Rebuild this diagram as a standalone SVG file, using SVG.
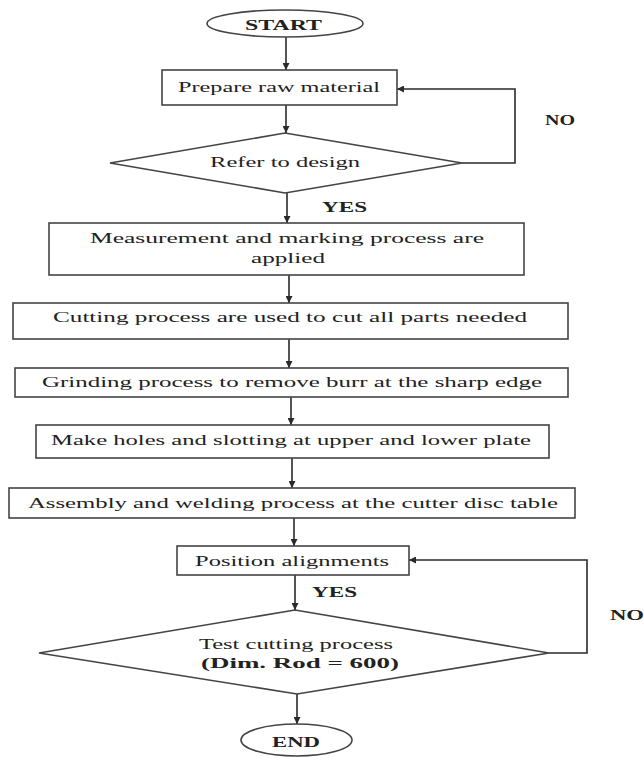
<svg xmlns="http://www.w3.org/2000/svg" width="644" height="757" viewBox="0 0 644 757">
<defs>
<marker id="ah" viewBox="0 0 10 10" refX="10" refY="5" markerWidth="7" markerHeight="7" markerUnits="userSpaceOnUse" orient="auto">
<path d="M0,0 L10,5 L0,10 z" fill="#2a2a2a"/>
</marker>
</defs>
<style>
.shape{fill:#ffffff;stroke:#444444;stroke-width:1.6}
.line{fill:none;stroke:#2a2a2a;stroke-width:1.6}
.arrow{fill:none;stroke:#2a2a2a;stroke-width:1.6;marker-end:url(#ah)}
text{font-family:"Liberation Serif","Times New Roman",serif;font-size:15px;fill:#222222}
.b{font-weight:bold}
</style>
<rect width="644" height="757" fill="#ffffff"/>
<g id="connectors">
<line class="arrow" x1="286" y1="37" x2="286" y2="70"/>
<line class="arrow" x1="286" y1="105" x2="286" y2="133"/>
<polyline class="arrow" points="462,163 515,163 515,89 397,89"/>
<line class="arrow" x1="287" y1="193" x2="287" y2="223"/>
<line class="arrow" x1="289" y1="275" x2="289" y2="303"/>
<line class="arrow" x1="289" y1="339" x2="289" y2="368"/>
<line class="arrow" x1="291" y1="397" x2="291" y2="425"/>
<line class="arrow" x1="292" y1="458" x2="292" y2="488"/>
<line class="arrow" x1="294" y1="518" x2="294" y2="546"/>
<line class="arrow" x1="295" y1="575" x2="295" y2="610"/>
<polyline class="arrow" points="549,653 587,653 587,560 409,560"/>
<line class="arrow" x1="297" y1="694" x2="297" y2="724"/>
<text class="b" x="545" y="125" textLength="30" lengthAdjust="spacingAndGlyphs">NO</text>
<text class="b" x="322" y="212" textLength="45" lengthAdjust="spacingAndGlyphs">YES</text>
<text class="b" x="312" y="597" textLength="45" lengthAdjust="spacingAndGlyphs">YES</text>
<text class="b" x="610" y="620" textLength="34" lengthAdjust="spacingAndGlyphs">NO</text>
</g>
<g id="start">
<ellipse class="shape" cx="285" cy="23.5" rx="78" ry="13.5"/>
<text class="b" x="245" y="30" textLength="77" lengthAdjust="spacingAndGlyphs">START</text>
</g>
<g id="prepare">
<rect class="shape" x="162" y="70" width="235" height="35"/>
<text x="178" y="92" textLength="202" lengthAdjust="spacingAndGlyphs">Prepare raw material</text>
</g>
<g id="refer">
<polygon class="shape" points="285,133 462,163 285,193 110,163"/>
<text x="210" y="167" textLength="150" lengthAdjust="spacingAndGlyphs">Refer to design</text>
</g>
<g id="measurement">
<rect class="shape" x="49" y="223" width="475" height="52"/>
<text x="90" y="243" textLength="394" lengthAdjust="spacingAndGlyphs">Measurement and marking process are</text>
<text x="251" y="263" textLength="74" lengthAdjust="spacingAndGlyphs">applied</text>
</g>
<g id="cutting">
<rect class="shape" x="13" y="303" width="555" height="36"/>
<text x="53" y="322" textLength="474" lengthAdjust="spacingAndGlyphs">Cutting process are used to cut all parts needed</text>
</g>
<g id="grinding">
<rect class="shape" x="15" y="368" width="553" height="29"/>
<text x="42" y="387" textLength="500" lengthAdjust="spacingAndGlyphs">Grinding process to remove burr at the sharp edge</text>
</g>
<g id="holes">
<rect class="shape" x="36" y="425" width="513" height="33"/>
<text x="51" y="445" textLength="480" lengthAdjust="spacingAndGlyphs">Make holes and slotting at upper and lower plate</text>
</g>
<g id="assembly">
<rect class="shape" x="9" y="488" width="566" height="30"/>
<text x="28" y="508" textLength="530" lengthAdjust="spacingAndGlyphs">Assembly and welding process at the cutter disc table</text>
</g>
<g id="position">
<rect class="shape" x="177" y="546" width="232" height="29"/>
<text x="195" y="566" textLength="194" lengthAdjust="spacingAndGlyphs">Position alignments</text>
</g>
<g id="test">
<polygon class="shape" points="295,610 549,653 297,694 39,653"/>
<text x="199" y="649" textLength="194" lengthAdjust="spacingAndGlyphs">Test cutting process</text>
<text class="b" x="201" y="668" textLength="198" lengthAdjust="spacingAndGlyphs">(Dim. Rod = 600)</text>
</g>
<g id="end">
<ellipse class="shape" cx="296.5" cy="740" rx="55.5" ry="16"/>
<text class="b" x="272" y="747" textLength="48" lengthAdjust="spacingAndGlyphs">END</text>
</g>
</svg>
